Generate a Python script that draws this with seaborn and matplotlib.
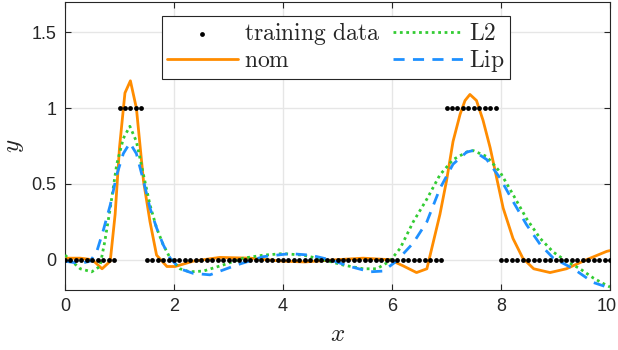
import numpy as np
import pandas as pd
import matplotlib
matplotlib.use('Agg')
import matplotlib.pyplot as plt
import matplotlib.transforms as mtransforms
import seaborn as sns

# training data: grid with spacing 0.1, two plateaus at y = 1
x_train = np.round(np.arange(0, 10.01, 0.1), 1)
ones_lo = [1.0, 1.1, 1.2, 1.3, 1.4]
ones_hi = [7.0, 7.1, 7.2, 7.3, 7.4, 7.5, 7.6, 7.7, 7.8, 7.9]
y_train = np.where(np.isin(x_train, ones_lo + ones_hi), 1.0, 0.0)

# nominal model
x_nom = [0, 0.28, 0.5, 0.68, 0.83, 0.92, 1.0, 1.1, 1.2, 1.31, 1.44, 1.56, 1.68, 1.87,
         2.02, 2.35, 2.84, 3.4, 4.0, 4.4, 5.0, 5.47, 5.96, 6.2, 6.45, 6.64, 6.76, 6.88,
         7.0, 7.12, 7.25, 7.34, 7.43, 7.55, 7.67, 7.8, 7.92, 8.04, 8.22, 8.4, 8.6, 8.9,
         9.2, 9.57, 9.94, 10]
y_nom = [0.01, 0.01, 0.0, -0.06, -0.01, 0.3, 0.74, 1.1, 1.18, 1.0, 0.52, 0.25, 0.03, -0.045,
         -0.045, -0.01, 0.015, 0.01, -0.01, -0.015, 0.0, 0.01, 0.0, -0.04, -0.085, -0.06, 0.12, 0.3,
         0.52, 0.78, 0.96, 1.05, 1.09, 1.05, 0.92, 0.74, 0.54, 0.34, 0.14, 0.01, -0.06, -0.085,
         -0.06, 0.0, 0.055, 0.06]

# L2 regularised
x_l2 = [0, 0.28, 0.49, 0.64, 0.73, 0.83, 0.95, 1.07, 1.19, 1.31, 1.44, 1.56, 1.68, 1.8,
        1.93, 2.11, 2.29, 2.54, 2.9, 3.27, 3.64, 4.0, 4.37, 4.74, 5.1, 5.47, 5.72, 5.96,
        6.15, 6.39, 6.64, 6.88, 7.12, 7.37, 7.49, 7.74, 7.98, 8.22, 8.47, 8.72, 8.96, 9.2,
        9.45, 9.69, 9.94, 10]
y_l2 = [0.03, -0.06, -0.08, -0.045, 0.12, 0.34, 0.63, 0.8, 0.88, 0.78, 0.56, 0.36, 0.21, 0.1,
        0.01, -0.06, -0.08, -0.075, -0.035, 0.01, 0.03, 0.04, 0.03, 0.0, -0.035, -0.06, -0.06, -0.01,
        0.075, 0.25, 0.4, 0.56, 0.66, 0.71, 0.72, 0.68, 0.58, 0.43, 0.27, 0.14, 0.05, -0.01,
        -0.06, -0.12, -0.17, -0.18]

# Lipschitz regularised
x_lip = [0, 0.28, 0.46, 0.58, 0.7, 0.83, 0.95, 1.07, 1.19, 1.31, 1.44, 1.56, 1.68, 1.8,
         1.93, 2.11, 2.35, 2.66, 3.15, 3.64, 4.13, 4.5, 4.86, 5.23, 5.6, 5.84, 6.08, 6.39,
         6.64, 6.88, 7.12, 7.37, 7.49, 7.74, 7.98, 8.22, 8.47, 8.72, 8.96, 9.33, 9.69, 9.94, 10]
y_lip = [-0.01, -0.025, -0.01, 0.05, 0.19, 0.36, 0.56, 0.7, 0.77, 0.7, 0.52, 0.34, 0.21, 0.1,
         0.01, -0.06, -0.09, -0.1, -0.035, 0.02, 0.04, 0.03, 0.0, -0.045, -0.08, -0.075, -0.01, 0.11,
         0.25, 0.47, 0.63, 0.71, 0.72, 0.66, 0.54, 0.385, 0.23, 0.1, 0.01, -0.06, -0.15, -0.18, -0.19]

sns.set_style('white')
plt.rcParams['font.family'] = ['Liberation Sans', 'DejaVu Sans']
plt.rcParams['mathtext.fontset'] = 'cm'

fig = plt.figure(figsize=(6.18, 3.5), dpi=100)
ax = fig.add_axes([65 / 618, 60 / 350, 545 / 618, 288 / 350])

sns.scatterplot(x=x_train, y=y_train, ax=ax, color='black', s=12, linewidth=0,
                label=r'$\mathrm{training\ data}$', zorder=5)
sns.lineplot(x=x_nom, y=y_nom, ax=ax, color='#ff8c00', lw=2, sort=False,
             label=r'$\mathrm{nom}$', zorder=3)
sns.lineplot(x=x_l2, y=y_l2, ax=ax, color='#33cc33', lw=2, sort=False,
             label=r'$\mathrm{L2}$', zorder=3)
sns.lineplot(x=x_lip, y=y_lip, ax=ax, color='#1e90ff', lw=2, sort=False,
             label=r'$\mathrm{Lip}$', zorder=3)
ax.lines[-2].set_linestyle((0, (1, 1.3)))
ax.lines[-1].set_linestyle((0, (4, 3)))

ax.set_xlim(0, 10)
ax.set_ylim(-0.2, 1.7)
ax.set_xticks([0, 2, 4, 6, 8, 10])
ax.set_yticks([0, 0.5, 1, 1.5])
ax.set_yticklabels(['0', '0.5', '1', '1.5'])
ax.grid(True, color='#e6e6e6', lw=1)
ax.set_axisbelow(True)
ax.tick_params(direction='in', length=4, width=0.8, color='#262626', labelsize=13,
               labelcolor='#262626', top=True, right=True, bottom=True, left=True, pad=6)
for sp in ax.spines.values():
    sp.set_color('#262626')
    sp.set_linewidth(0.8)
ax.set_xlabel(r'$x$', fontsize=18, labelpad=5)
ax.set_ylabel(r'$y$', fontsize=18, labelpad=4)

# nudge the last x tick label so it stays inside the canvas
last = ax.xaxis.get_major_ticks()[-1].label1
last.set_transform(last.get_transform() +
                   mtransforms.ScaledTranslation(-3 / 100, 0, fig.dpi_scale_trans))

leg = ax.legend(ncol=2, loc='upper center', bbox_to_anchor=(0.497, 0.953), fontsize=17,
                frameon=True, fancybox=False, edgecolor='#262626', framealpha=1,
                handlelength=3.0, columnspacing=0.55, borderpad=0.2, labelspacing=0.12,
                handletextpad=0.25, markerscale=1.0, borderaxespad=0)
leg.get_frame().set_linewidth(0.8)

fig.savefig('out.png', dpi=100)
